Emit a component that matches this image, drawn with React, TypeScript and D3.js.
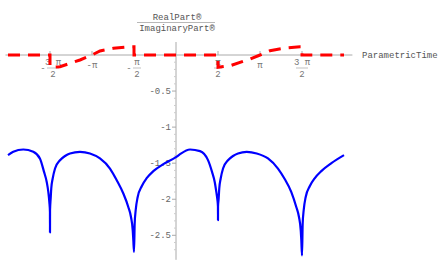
import React from 'react';
import * as d3 from 'd3';

// parametric time, in units of pi
const blueT = [
  -2.0, -1.937, -1.818, -1.699, -1.619, -1.571, -1.539, -1.52, -1.508, -1.5005, -1.5, -1.4995, -1.492, -1.485, -1.468, -1.44, -1.381, -1.321, -1.262, -1.143, -1.024, -0.905,
  -0.786, -0.706, -0.627, -0.568, -0.536, -0.515, -0.508, -0.5, -0.492, -0.48, -0.456, -0.408, -0.349, -0.27, -0.151, 0.0, 0.048, 0.167,
  0.286, 0.381, 0.429, 0.461, 0.48, 0.492, 0.4995, 0.5, 0.5005, 0.508, 0.515, 0.532, 0.56, 0.619, 0.679, 0.738, 0.842, 0.961, 1.095,
  1.214, 1.294, 1.373, 1.432, 1.464, 1.485, 1.492, 1.5, 1.508, 1.52, 1.544, 1.592, 1.651, 1.73, 1.85, 2.0,
];
const blueV = [
  -1.389, -1.343, -1.31, -1.343, -1.438, -1.621, -1.76, -1.899, -2.037, -2.176, -2.46, -2.15, -1.99, -1.851, -1.713, -1.574, -1.46, -1.4, -1.365, -1.343, -1.365, -1.435,
  -1.575, -1.736, -1.921, -2.107, -2.246, -2.431, -2.569, -2.73, -2.338, -2.153, -1.968, -1.819, -1.708, -1.611, -1.514, -1.417, -1.375, -1.31,
  -1.333, -1.458, -1.621, -1.76, -1.899, -2.0, -2.1, -2.29, -2.1, -1.99, -1.851, -1.713, -1.574, -1.46, -1.4, -1.365, -1.343, -1.365, -1.435,
  -1.575, -1.72, -1.9, -2.107, -2.246, -2.431, -2.569, -2.78, -2.338, -2.153, -1.968, -1.82, -1.71, -1.61, -1.5, -1.389,
];

const redT = [-2.0, -1.5, -1.5, -1.381, -1.143, -1.0, -0.905, -0.746, -0.548, -0.5, -0.5, 0.5, 0.5, 0.643, 0.881, 1.0, 1.119, 1.278, 1.476, 1.5, 1.5, 2.0];
const redV = [0, 0, -0.17, -0.163, -0.069, 0, 0.056, 0.093, 0.115, 0.115, 0, 0, -0.17, -0.149, -0.056, 0, 0.06, 0.093, 0.115, 0.115, 0, 0];

const xTickVals = [-1.5, -1, -0.5, 0.5, 1, 1.5];
const xTickLabels = [
  { neg: true, num: '3 π', den: '2' },
  { neg: true, num: 'π', den: '' },
  { neg: true, num: 'π', den: '2' },
  { neg: false, num: 'π', den: '2' },
  { neg: false, num: 'π', den: '' },
  { neg: false, num: '3 π', den: '2' },
];
const yTickVals = [-0.5, -1, -1.5, -2, -2.5];
const yTickLabels = ['-0.5', '-1', '-1.5', '-2', '-2.5'];

const font = '"Liberation Mono", "Courier New", monospace';

export default function App() {
  const W = 442, H = 273;
  const x = d3.scaleLinear().domain([-2, 2]).range([8, 344]);
  const y = d3.scaleLinear().domain([0, -2.5]).range([55, 235.3]);

  const blue = d3.line<number>()
    .x((d, i) => x(blueT[i]))
    .y(d => y(d))
    .curve(d3.curveMonotoneX)(blueV);
  const red = d3.line<number>()
    .x((d, i) => x(redT[i]))
    .y(d => y(d))(redV);

  const x0 = x(0), y0 = y(0);
  const minorY = d3.range(1, 28).map(i => -i * 0.1).filter(v => Math.abs(v * 2 - Math.round(v * 2)) > 1e-6);

  return (
    <svg width={W} height={H} style={{ position: 'absolute', left: 0, top: 0 }} fontFamily={font}>
      <rect width={W} height={H} fill="#fff" />
      {/* axes */}
      <line x1={x(-2.03)} x2={x(2.1)} y1={y0} y2={y0} stroke="#aaa" strokeWidth={1} />
      <line x1={x0} x2={x0} y1={y(0.18)} y2={y(-2.84)} stroke="#aaa" strokeWidth={1} />
      {yTickVals.map(v => (
        <line key={v} x1={x0 - 4} x2={x0} y1={y(v)} y2={y(v)} stroke="#aaa" />
      ))}
      {minorY.map(v => (
        <line key={'m' + v} x1={x0 - 2} x2={x0} y1={y(v)} y2={y(v)} stroke="#ccc" />
      ))}
      {xTickVals.map(v => (
        <line key={v} x1={x(v)} x2={x(v)} y1={y0} y2={y0 - 4} stroke="#aaa" />
      ))}
      {yTickLabels.map((t, i) => (
        <text key={t} x={x0 - 5} y={y(yTickVals[i]) + 3} fontSize={9} fill="#666" textAnchor="end">{t}</text>
      ))}
      {xTickLabels.map((t, i) => {
        const cx = x(xTickVals[i]);
        if (!t.den) {
          return (
            <text key={i} x={cx} y={y0 + 13} fontSize={9} fill="#777" textAnchor="middle">
              {(t.neg ? '-' : '') + t.num}
            </text>
          );
        }
        const fx = t.neg ? cx + 3 : cx;
        const half = t.num.length > 1 ? 6 : 4;
        return (
          <g key={i} fill="#777" fontSize={9}>
            {t.neg && <text x={fx - half - 4} y={y0 + 16} textAnchor="middle">-</text>}
            <text x={fx} y={y0 + 10} textAnchor="middle">{t.num}</text>
            <line x1={fx - half} x2={fx + half} y1={y0 + 13} y2={y0 + 13} stroke="#999" strokeWidth={0.6} />
            <text x={fx} y={y0 + 22} textAnchor="middle">{t.den}</text>
          </g>
        );
      })}
      {/* axis labels */}
      <text x={362} y={y0 + 3} fontSize={9} fill="#555">ParametricTime</text>
      <text x={x0 + 1} y={20} fontSize={9} fill="#555" textAnchor="middle">RealPart®</text>
      <line x1={137} x2={215} y1={22.5} y2={22.5} stroke="#888" strokeWidth={0.6} />
      <text x={x0 + 1} y={31} fontSize={9} fill="#555" textAnchor="middle">ImaginaryPart®</text>
      {/* curves */}
      <path d={blue || ''} fill="none" stroke="#0000ff" strokeWidth={2.2} strokeLinejoin="round" />
      <path d={red || ''} fill="none" stroke="#ff0000" strokeWidth={3} strokeDasharray="12 8" />
    </svg>
  );
}
